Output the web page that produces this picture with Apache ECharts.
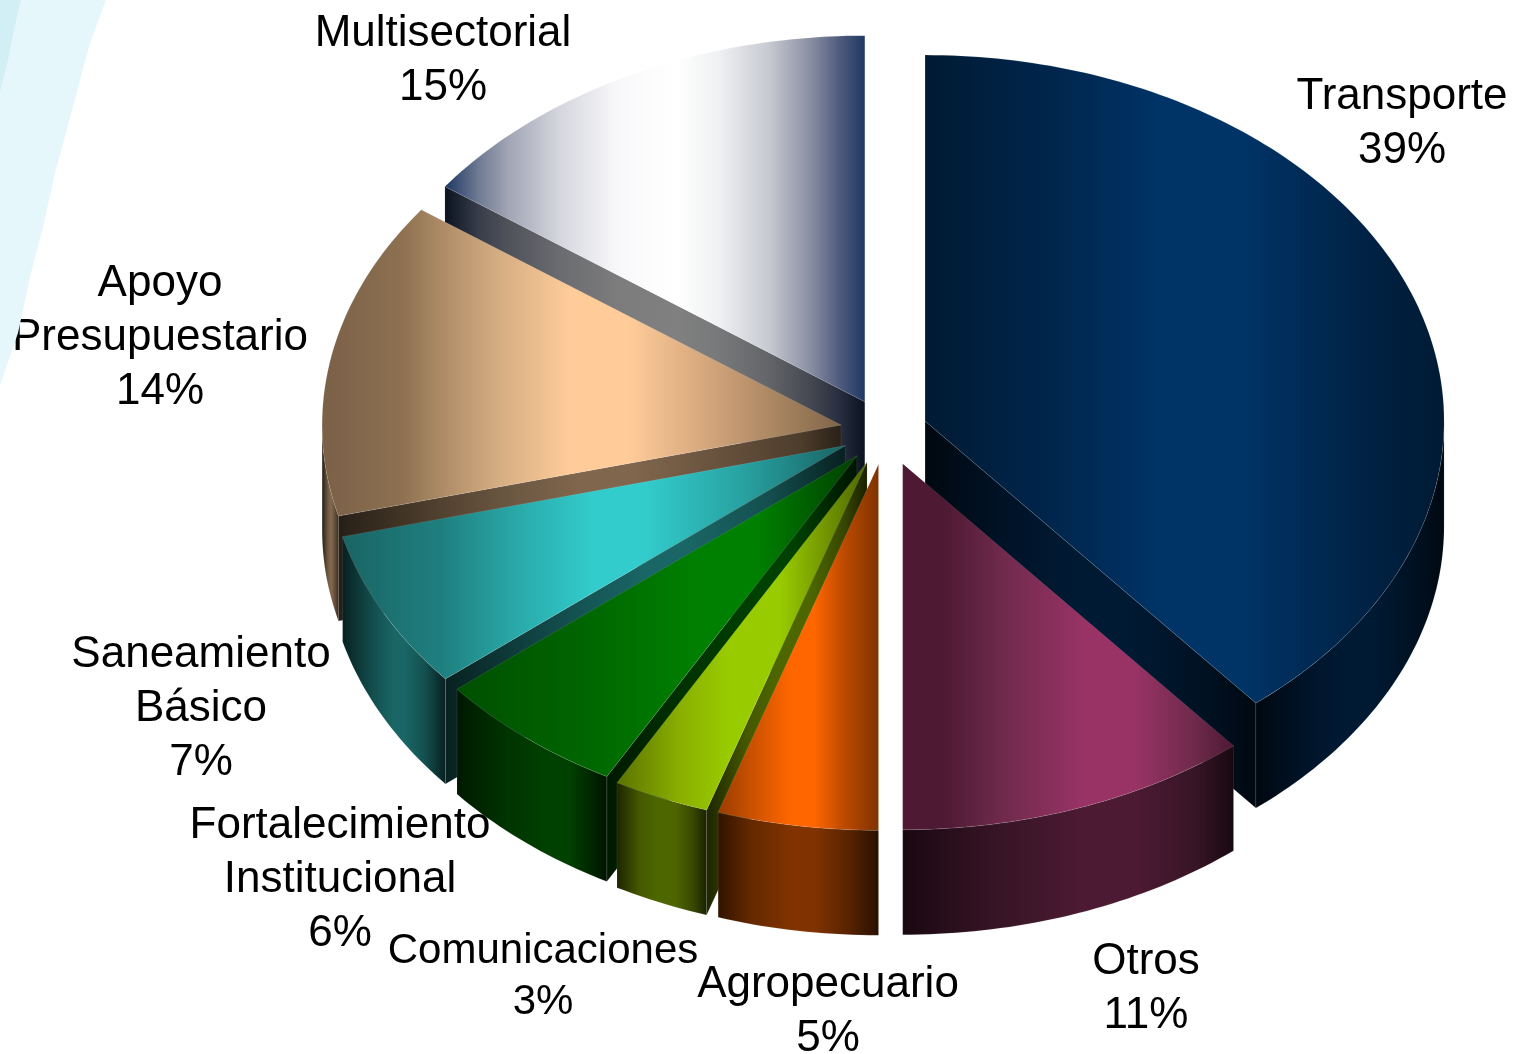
<!DOCTYPE html>
<html><head><meta charset="utf-8">
<style>html,body{margin:0;padding:0;background:#fff}#c{width:1513px;height:1054px}</style>
<script src="https://cdn.jsdelivr.net/npm/echarts@6/dist/echarts.min.js"></script>
</head><body><div id="c"></div>
<script>
const categories = ['Transporte','Otros','Agropecuario','Comunicaciones','Fortalecimiento\nInstitucional','Saneamiento\nBásico','Apoyo\nPresupuestario','Multisectorial'];
const shares = [39,11,5,3,6,7,14,15];

const paintOrder = [7,0,6,5,4,3,2,1];
const explodeByShare = [.08,.095,.092,.092,.088,.088,.088,.09];
const labelAnchors = [[1402,124],[1146,989],[828,1012],[543,977],[340,880],[201,709],[160,338],[443,61]];
const labelFontSizes = [44,44,44,42,44,44,44,44];
const topStops = [
 [[0,'#001a33'],[.25,'#00264d'],[.45,'#003366'],[.62,'#003366'],[.85,'#002244'],[1,'#001a33']],
 [[0,'#4d1933'],[.12,'#4d1933'],[.3,'#6f2a4c'],[.55,'#993366'],[.7,'#993366'],[.88,'#6f2a4c'],[1,'#4d1933']],
 [[0,'#993d00'],[.2,'#c85000'],[.45,'#ff6600'],[.6,'#ff6600'],[.8,'#b84800'],[1,'#7f3300']],
 [[0,'#5b7300'],[.25,'#8aaf00'],[.45,'#99cc00'],[.65,'#99cc00'],[.85,'#6f9000'],[1,'#4d6600']],
 [[0,'#004f00'],[.3,'#006400'],[.6,'#008000'],[.75,'#008000'],[1,'#003f00']],
 [[0,'#1a6464'],[.2,'#1f8080'],[.35,'#2aaaaa'],[.5,'#33cccc'],[.6,'#33cccc'],[.8,'#28a0a0'],[1,'#196464']],
 [[0,'#7a6048'],[.15,'#8c7050'],[.25,'#b5916b'],[.34,'#d5ad82'],[.48,'#ffcc99'],[.59,'#ffcc99'],[.73,'#d8a97f'],[.92,'#9a7a58'],[1,'#806548']],
 [[0,'#1f3864'],[.08,'#6f7a93'],[.15,'#a0a4b4'],[.27,'#d4d5dd'],[.41,'#f8f8fa'],[.55,'#ffffff'],[.65,'#f0f1f3'],[.77,'#c8cad2'],[.87,'#8a8fa2'],[.94,'#4f5b7d'],[1,'#1f3864']]
];

const CX=886, CY=431, RX=519, RY=366, DEPTH=105;

function scaleHex(hex,k){
  const n=parseInt(hex.slice(1),16);
  const c=[n>>16,(n>>8)&255,n&255].map(v=>Math.round(v*k));
  return 'rgb('+c.join(',')+')';
}
function fillOf(stops,x0,x1){
  return new echarts.graphic.LinearGradient(x0,0,x1,0,stops.map(s=>({offset:s[0],color:s[1]})),true);
}
function wallStops(stops){
  return stops.map((s,i)=>[s[0],scaleHex(s[1],(i===0||i===stops.length-1)?.32:.5)]);
}
const rad=d=>d*Math.PI/180;
const xs=pts=>pts.map(p=>p[0]);

function renderSlice(params,api){
  const i=params.dataIndex;
  const total=shares.reduce((a,b)=>a+b,0);
  const before=shares.slice(0,i).reduce((a,b)=>a+b,0);
  const a0=before/total*360, a1=a0+api.value(0)/total*360, mid=(a0+a1)/2;
  const k=explodeByShare[i];
  const ax=CX+RX*k*Math.sin(rad(mid)), ay=CY-RY*k*Math.cos(rad(mid));
  const at=t=>[ax+RX*Math.sin(rad(t)),ay-RY*Math.cos(rad(t))];
  const arc=(s,e)=>{const n=Math.max(2,Math.ceil(e-s)),o=[];for(let j=0;j<=n;j++)o.push(at(s+(e-s)*j/n));return o;};
  const down=pts=>pts.map(p=>[p[0],p[1]+DEPTH]);
  const rank=paintOrder.indexOf(i)*10;
  const stops=topStops[i], wall=wallStops(stops);
  const kids=[];
  const face=(pts,st,z)=>{
    const x=xs(pts),lo=Math.min(...x),hi=Math.max(...x);
    kids.push({type:'polygon',shape:{points:pts},z2:rank+z,
      style:{fill:fillOf(st,lo,hi===lo?lo+1:hi),stroke:'rgba(255,255,255,.18)',lineWidth:.5}});
  };
  const radialWall=t=>{
    const e=at(t);
    face([[ax,ay],e,[e[0],e[1]+DEPTH],[ax,ay+DEPTH]],wall,1);
  };
  if(Math.sin(rad(a0))<-1e-6) radialWall(a0);
  if(Math.sin(rad(a1))>1e-6) radialWall(a1);
  const s=Math.max(a0,90), e=Math.min(a1,270);
  if(e>s){const top=arc(s,e);face(top.concat(down(top).reverse()),wall,2);}
  face([[ax,ay]].concat(arc(a0,a1)),stops,3);
  const anchor=labelAnchors[i], size=labelFontSizes[i];
  kids.push({type:'text',z2:1000,style:{
    text:categories[i]+'\n'+api.value(0)+'%',x:anchor[0],y:anchor[1],
    fill:'#000',align:'center',verticalAlign:'middle',
    font:size+'px "Liberation Sans", Arial, sans-serif',lineHeight:size*54/44}});
  return {type:'group',children:kids};
}

const chart=echarts.init(document.getElementById('c'),null,{renderer:'canvas'});
chart.setOption({
  animation:false,
  backgroundColor:'#ffffff',
  graphic:[
    {type:'polygon',z:100,silent:true,
     shape:{points:[[0,0],[106,0],[90,43],[72,110],[55,173],[43,227],[30,277],[18,333],[0,385]]},
     style:{fill:'#e5f7fb'}},
    {type:'polygon',z:101,silent:true,
     shape:{points:[[0,0],[21,0],[14,30],[8,60],[0,92]]},
     style:{fill:'#d3eff6'}}
  ],
  series:[{type:'custom',coordinateSystem:'none',z:2,silent:true,
    data:shares.map((v,i)=>({name:categories[i],value:[v]})),
    renderItem:renderSlice}]
});
</script></body></html>
